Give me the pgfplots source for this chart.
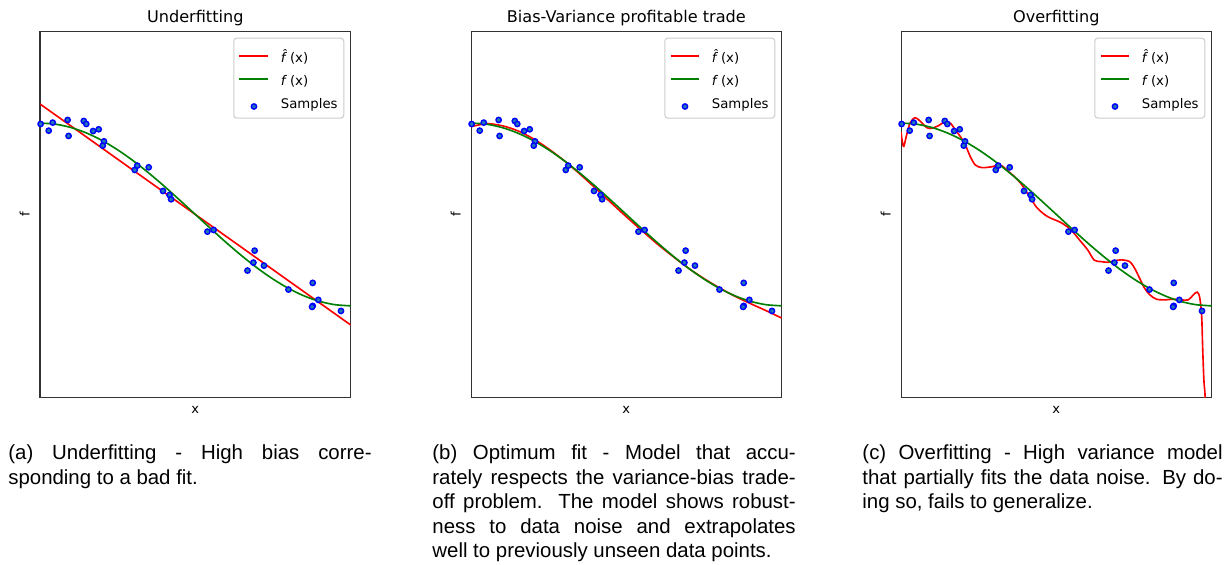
\documentclass[border=0pt]{standalone}
\usepackage{fontspec}
\setmainfont{DejaVu Sans}
\newfontfamily\capfont{Liberation Sans}
\usepackage{pgfplots}
\usepackage{pgfplotstable}
\pgfplotsset{compat=1.18}

\definecolor{mplblue}{HTML}{1F77B4}
\definecolor{mplgreen}{rgb}{0,0.5,0}

% noisy samples of the true function
\pgfplotstableread{
x y
0.002 0.990
0.028 0.917
0.041 1.005
0.089 1.034
0.092 0.859
0.141 1.023
0.149 0.990
0.171 0.913
0.189 0.932
0.206 0.800
0.202 0.753
0.305 0.487
0.313 0.534
0.350 0.516
0.396 0.257
0.417 0.213
0.422 0.166
0.539 -0.188
0.559 -0.170
0.691 -0.396
0.687 -0.527
0.668 -0.614
0.721 -0.560
0.800 -0.822
0.878 -0.749
0.896 -0.935
0.878 -1.001
0.876 -1.012
0.969 -1.056
}\samples

% true function f(x)
\pgfplotstableread{
x y
0.00 1.0000
0.05 0.9877
0.10 0.9511
0.15 0.8910
0.20 0.8090
0.25 0.7071
0.30 0.5878
0.35 0.4540
0.40 0.3090
0.45 0.1564
0.50 0.0000
0.55 -0.1564
0.60 -0.3090
0.65 -0.4540
0.70 -0.5878
0.75 -0.7071
0.80 -0.8090
0.85 -0.8910
0.90 -0.9511
0.95 -0.9877
1.00 -1.0000
}\truefun

% degree 1 model
\pgfplotstableread{
x y
0.0 1.209
0.5 0.000
1.0 -1.209
}\fitlow

% degree 4 model
\pgfplotstableread{
x y
0.00 0.960
0.05 0.993
0.10 0.971
0.15 0.916
0.20 0.829
0.25 0.717
0.30 0.588
0.35 0.444
0.40 0.289
0.45 0.131
0.50 -0.025
0.55 -0.176
0.60 -0.324
0.65 -0.459
0.70 -0.588
0.75 -0.702
0.80 -0.804
0.85 -0.896
0.90 -0.976
0.95 -1.053
1.00 -1.134
}\fitmid

% degree 15 model
\pgfplotstableread{
x y
0.000 0.900
0.004 0.800
0.009 0.745
0.018 0.870
0.029 1.000
0.045 1.059
0.061 1.023
0.083 0.950
0.099 0.943
0.121 0.972
0.142 1.016
0.159 0.998
0.175 0.925
0.191 0.852
0.207 0.761
0.223 0.633
0.239 0.542
0.261 0.512
0.294 0.523
0.320 0.540
0.353 0.451
0.385 0.342
0.417 0.178
0.439 0.068
0.472 -0.024
0.515 -0.089
0.547 -0.169
0.579 -0.297
0.601 -0.388
0.622 -0.500
0.644 -0.516
0.666 -0.523
0.687 -0.508
0.709 -0.497
0.736 -0.516
0.752 -0.588
0.768 -0.697
0.784 -0.807
0.801 -0.880
0.822 -0.927
0.849 -0.935
0.876 -0.927
0.903 -0.935
0.925 -0.935
0.941 -0.880
0.954 -0.850
0.962 -0.916
0.968 -1.117
0.971 -1.445
0.975 -1.810
0.979 -1.990
0.983 -2.400
}\fithigh

\pgfplotsset{
  fitpanel/.style={
    scale only axis, width=152.2pt, height=179.1pt,
    anchor=north west,
    xmin=0, xmax=1, ymin=-2, ymax=2,
    xtick=\empty, ytick=\empty,
    axis line style={black!80, line width=0.5pt},
    every axis title shift=0pt,
    title style={font=\fontsize{7.9}{9}\selectfont, at={(axis description cs:0.5,1)}, anchor=base, yshift=4.4pt, inner sep=0pt},
    xlabel={x}, ylabel={f},
    label style={font=\fontsize{6.4}{7.5}\selectfont},
    xlabel style={at={(axis description cs:0.5,0)}, anchor=base, yshift=-7.9pt, inner sep=0pt},
    ylabel style={at={(axis description cs:-0.032,0.5)}, anchor=south, inner sep=0pt},
    legend image code/.code={\draw[mark repeat=2,mark phase=2,##1] plot coordinates {(0pt,3.1pt) (7.1pt,3.1pt) (14.2pt,3.1pt)};},
    legend style={at={(axis description cs:1,1)}, anchor=north east, xshift=-3.1pt, yshift=-2.9pt,
      draw=black!20, line width=0.5pt, rounded corners=1.5pt, fill=white,
      inner xsep=2.4pt, inner ysep=4pt, row sep=2.4pt, column sep=5.7pt,
      font=\fontsize{6.5}{7.5}\selectfont,
      cells={anchor=base west},
      nodes={inner sep=0pt, text height=7.9pt, text depth=0.9pt, text width=28.4pt, align=left}},
  },
  model/.style={red, line width=0.8pt, smooth},
  truth/.style={mplgreen, line width=0.8pt, smooth},
  pts/.style={only marks, mark=*, mark size=1.3pt, mark options={fill=mplblue, draw=blue, line width=0.7pt},
    legend image code/.code={\draw[mark repeat=2,mark phase=2,##1] plot coordinates {(0pt,0.8pt) (7.1pt,0.8pt) (14.2pt,0.8pt)};}},
}

\newcommand{\fhat}{{\itshape\^{f}} (x)}
\newcommand{\ftrue}{{\itshape f} (x)}

\begin{document}
\begin{tikzpicture}
\useasboundingbox (0,0) rectangle (603.19pt,-276.36pt);

\begin{axis}[fitpanel, at={(19.6pt,-15.53pt)}, title={Underfitting}]
  \addplot[model] table {\fitlow};
  \addlegendentry{\fhat}
  \addplot[truth] table {\truefun};
  \addlegendentry{\ftrue}
  \addplot[pts] table {\samples};
  \addlegendentry{Samples}
\end{axis}

\begin{axis}[fitpanel, at={(230.8pt,-15.53pt)}, title={Bias-Variance profitable trade}]
  \addplot[model] table {\fitmid};
  \addlegendentry{\fhat}
  \addplot[truth] table {\truefun};
  \addlegendentry{\ftrue}
  \addplot[pts] table {\samples};
  \addlegendentry{Samples}
\end{axis}

\begin{axis}[fitpanel, at={(441.5pt,-15.53pt)}, title={Overfitting}]
  \addplot[model] table {\fithigh};
  \addlegendentry{\fhat}
  \addplot[truth] table {\truefun};
  \addlegendentry{\ftrue}
  \addplot[pts] table {\samples};
  \addlegendentry{Samples}
\end{axis}

\tikzset{caption/.style={anchor=base west, inner sep=0pt, align=justify,
  font=\capfont\fontsize{10}{12}\selectfont}}
\node[caption, text width=178pt] at (3.9pt,-225.2pt)
  {\hyphenpenalty=10000 \exhyphenpenalty=10000
   (a) Underfitting - High bias corre-\linebreak sponding to a bad fit.};
\node[caption, text width=178pt] at (211.7pt,-225.2pt)
  {\hyphenpenalty=10000 \exhyphenpenalty=10000
   (b) Optimum fit - Model that accu-\linebreak rately respects the variance-bias trade-\linebreak off problem. The model shows robust-\linebreak ness to data noise and extrapolates\linebreak well to previously unseen data points.};
\node[caption, text width=176.5pt] at (422.4pt,-225.2pt)
  {\hyphenpenalty=10000 \exhyphenpenalty=10000
   (c) Overfitting - High variance model\linebreak that partially fits the data noise. By do-\linebreak ing so, fails to generalize.};
\end{tikzpicture}
\end{document}
